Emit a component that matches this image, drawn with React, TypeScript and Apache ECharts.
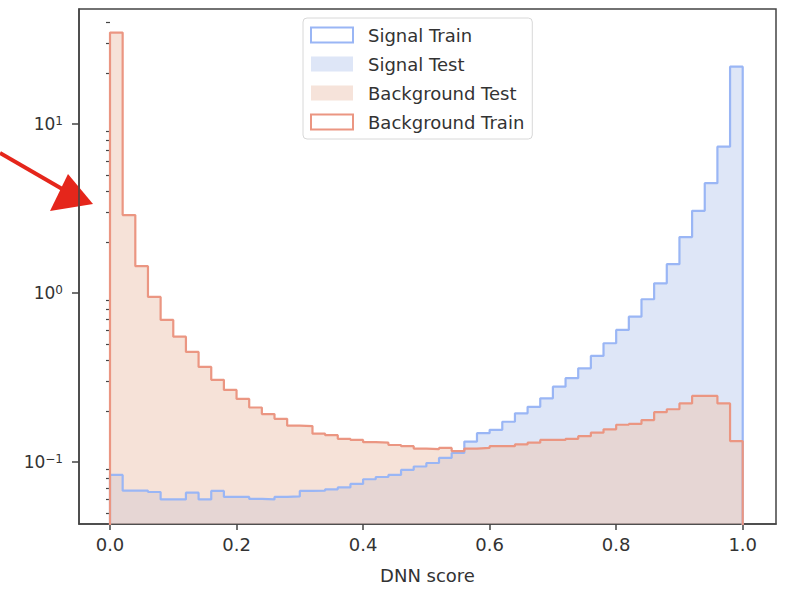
import React, { useEffect, useRef } from 'react';
import * as echarts from 'echarts';

// ---- data ----
const binLow = 0;
const binHigh = 1;

const signalTrain = [
  0.0838, 0.0676, 0.0676, 0.0664, 0.060, 0.060, 0.0658, 0.060, 0.0674, 0.0621,
  0.0621, 0.0604, 0.060, 0.0621, 0.0625, 0.0674, 0.0676, 0.0689, 0.0707, 0.0741,
  0.079, 0.0815, 0.0838, 0.0897, 0.094, 0.0986, 0.1056, 0.113, 0.132, 0.148,
  0.155, 0.173, 0.194, 0.212, 0.238, 0.279, 0.313, 0.358, 0.424, 0.504,
  0.604, 0.724, 0.918, 1.14, 1.48, 2.14, 3.06, 4.46, 7.34, 21.8,
];
const signalTest = [
  0.0838, 0.0676, 0.0676, 0.0664, 0.060, 0.060, 0.0658, 0.060, 0.0674, 0.0621,
  0.0621, 0.0604, 0.060, 0.0621, 0.0625, 0.0674, 0.0676, 0.0689, 0.0707, 0.0741,
  0.079, 0.0815, 0.0838, 0.0897, 0.094, 0.0986, 0.1056, 0.113, 0.132, 0.148,
  0.155, 0.173, 0.194, 0.212, 0.238, 0.279, 0.313, 0.358, 0.424, 0.504,
  0.604, 0.724, 0.918, 1.14, 1.48, 2.14, 3.06, 4.46, 7.34, 21.8,
];
const backgroundTest = [
  34.7, 2.89, 1.44, 0.947, 0.692, 0.551, 0.448, 0.365, 0.306, 0.267,
  0.236, 0.21, 0.192, 0.18, 0.164, 0.163, 0.147, 0.144, 0.137, 0.135,
  0.131, 0.13, 0.126, 0.124, 0.12, 0.119, 0.121, 0.116, 0.12, 0.121,
  0.124, 0.124, 0.127, 0.13, 0.135, 0.135, 0.137, 0.142, 0.149, 0.156,
  0.166, 0.168, 0.177, 0.197, 0.205, 0.222, 0.246, 0.246, 0.222, 0.133,
];
const backgroundTrain = [
  34.7, 2.89, 1.44, 0.947, 0.692, 0.551, 0.448, 0.365, 0.306, 0.267,
  0.236, 0.21, 0.192, 0.18, 0.164, 0.163, 0.147, 0.144, 0.137, 0.135,
  0.131, 0.13, 0.126, 0.124, 0.12, 0.119, 0.121, 0.116, 0.12, 0.121,
  0.124, 0.124, 0.127, 0.13, 0.135, 0.135, 0.137, 0.142, 0.149, 0.156,
  0.166, 0.168, 0.177, 0.197, 0.205, 0.222, 0.246, 0.246, 0.222, 0.133,
];

const xTicks = [0, 0.2, 0.4, 0.6, 0.8, 1.0];
const yMajorTicks = [0.1, 1, 10];
const yMinorTicks = [
  0.05, 0.06, 0.07, 0.08, 0.09,
  0.2, 0.3, 0.4, 0.5, 0.6, 0.7, 0.8, 0.9,
  2, 3, 4, 5, 6, 7, 8, 9,
  20, 30, 40,
];
const xRange = [-0.049, 1.0526];
const yRange = [0.04295, 47.86];
const legendNames = ['Signal Train', 'Signal Test', 'Background Test', 'Background Train'];
const xName = 'DNN score';

// ---- styles ----
const FONT = 'DejaVu Sans';
const BLUE_LINE = '#9ab6f5';
const ORANGE_LINE = '#eb9682';
const AXIS = '#444';
const TEXT = '#333';
const FLOOR = 1e-4; // below axis minimum: closes histogram outline at the bottom

function stepData(vals: number[]): number[][] {
  const w = (binHigh - binLow) / vals.length;
  const pts: number[][] = [[binLow, FLOOR]];
  vals.forEach((v, i) => pts.push([binLow + i * w, v]));
  pts.push([binHigh, vals[vals.length - 1]]);
  pts.push([binHigh, FLOOR]);
  return pts;
}

function supLabel(v: number): string {
  const e = Math.round(Math.log10(v));
  const s = e < 0 ? '\u2212' + String(-e) : String(e);
  return '{b|10}{s|' + s + '}';
}

export default function App() {
  const ref = useRef<HTMLDivElement>(null);
  useEffect(() => {
    if (!ref.current) return;
    const chart = echarts.init(ref.current, null, { renderer: 'svg' });
    const option: any = {
      animation: false,
      backgroundColor: '#fff',
      grid: {
        left: 79, top: 9, width: 697, height: 515,
        show: true, borderColor: AXIS, borderWidth: 1.5, backgroundColor: 'transparent',
        containLabel: false, outerBoundsMode: 'none',
      },
      xAxis: {
        type: 'value', min: xRange[0], max: xRange[1],
        name: xName, nameLocation: 'middle', nameGap: 42,
        nameTextStyle: { fontFamily: FONT, fontSize: 18, color: TEXT },
        axisLine: { show: true, onZero: false, lineStyle: { color: AXIS, width: 1.5 } },
        axisTick: { show: true, customValues: xTicks, length: 6, lineStyle: { color: AXIS, width: 1.5 } },
        axisLabel: {
          customValues: xTicks, formatter: (v: number) => v.toFixed(1),
          fontFamily: FONT, fontSize: 18, color: TEXT, margin: 11,
        },
        splitLine: { show: false },
      },
      yAxis: [
        {
          type: 'log', logBase: 10, min: yRange[0], max: yRange[1], position: 'left',
          axisLine: { show: true, onZero: false, lineStyle: { color: AXIS, width: 1.5 } },
          axisTick: { show: true, customValues: yMajorTicks, length: 7, lineStyle: { color: AXIS, width: 1.5 } },
          axisLabel: {
            customValues: yMajorTicks, formatter: supLabel, margin: 16,
            rich: {
              b: { fontFamily: FONT, fontSize: 17, color: TEXT, verticalAlign: 'bottom' },
              s: { fontFamily: FONT, fontSize: 12, color: TEXT, verticalAlign: 'top' },
            },
          },
          splitLine: { show: false },
          minorTick: { show: false },
        },
        {
          type: 'log', logBase: 10, min: yRange[0], max: yRange[1], position: 'left',
          axisLine: { show: false },
          axisTick: { show: true, customValues: yMinorTicks, length: 4, lineStyle: { color: AXIS, width: 1.2 } },
          axisLabel: { show: false },
          splitLine: { show: false },
        },
      ],
      legend: {
        data: [
          { name: legendNames[0], icon: 'rect', itemStyle: { color: '#fff', borderColor: BLUE_LINE, borderWidth: 2 } },
          { name: legendNames[1], icon: 'rect', itemStyle: { color: '#dee6f7', borderWidth: 0 } },
          { name: legendNames[2], icon: 'rect', itemStyle: { color: '#f6e3da', borderWidth: 0 } },
          { name: legendNames[3], icon: 'rect', itemStyle: { color: '#fff', borderColor: ORANGE_LINE, borderWidth: 2 } },
        ],
        orient: 'vertical', left: 303, top: 18,
        itemWidth: 42, itemHeight: 15, itemGap: 11,
        padding: [8, 8, 8, 7],
        backgroundColor: 'rgba(255,255,255,0.85)', borderColor: '#d8d8d8', borderWidth: 1, borderRadius: 4,
        textStyle: { fontFamily: FONT, fontSize: 18, color: TEXT, lineHeight: 18, padding: [0, 0, 0, 10] },
        selectedMode: false,
      },
      series: [
        {
          name: legendNames[0], type: 'line', step: 'end', data: stepData(signalTrain),
          symbol: 'none', showSymbol: false, clip: true, silent: true,
          lineStyle: { color: BLUE_LINE, width: 2.2 }, itemStyle: { color: BLUE_LINE },
        },
        {
          name: legendNames[1], type: 'line', step: 'end', data: stepData(signalTest),
          symbol: 'none', showSymbol: false, clip: true, silent: true,
          lineStyle: { width: 0, opacity: 0 }, itemStyle: { color: '#7a9de0' },
          areaStyle: { color: '#7a9de0', opacity: 0.25, origin: 'start' },
        },
        {
          name: legendNames[2], type: 'line', step: 'end', data: stepData(backgroundTest),
          symbol: 'none', showSymbol: false, clip: true, silent: true,
          lineStyle: { width: 0, opacity: 0 }, itemStyle: { color: 'rgb(237,199,181)' },
          areaStyle: { color: 'rgb(237,199,181)', opacity: 0.52, origin: 'start' },
        },
        {
          name: legendNames[3], type: 'line', step: 'end', data: stepData(backgroundTrain),
          symbol: 'none', showSymbol: false, clip: true, silent: true,
          lineStyle: { color: ORANGE_LINE, width: 2.2 }, itemStyle: { color: ORANGE_LINE },
        },
      ],
      graphic: [
        { type: 'line', shape: { x1: 0, y1: 153, x2: 64, y2: 190 }, style: { stroke: '#e5261b', lineWidth: 4 } },
        { type: 'polygon', shape: { points: [[50, 211], [68, 174], [93, 204]] }, style: { fill: '#e5261b' } },
      ],
    };
    chart.setOption(option);
    return () => chart.dispose();
  }, []);
  return <div ref={ref} style={{ position: 'fixed', left: 0, top: 0, width: 788, height: 592 }} />;
}
